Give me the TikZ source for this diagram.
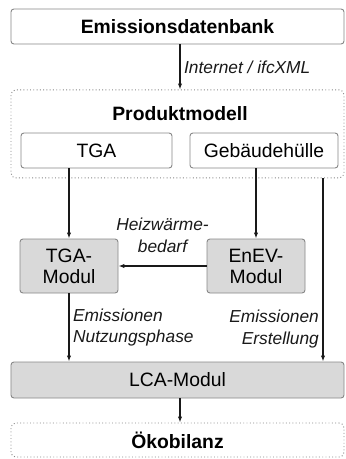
\documentclass[tikz,border=0pt]{standalone}
\usepackage{fontspec}
\setmainfont{Liberation Sans}
\usetikzlibrary{positioning, arrows.meta}
\definecolor{modulgray}{RGB}{217, 217, 217}
\definecolor{framegray}{RGB}{135, 135, 135}
\newcommand{\boxfont}{\fontsize{16.5pt}{18pt}\selectfont}
\newcommand{\lblfont}{\fontsize{14.8pt}{18.7pt}\selectfont\itshape}
\tikzset{
  % plain white box
  block/.style={
    rectangle, rounded corners=2.5pt,
    minimum height=1.05cm, inner sep=0pt,
    fill=white, draw=framegray, line width=0.8pt,
    font=\boxfont, align=center, text=black
  },
  % grey module box
  modul/.style={block, fill=modulgray, minimum width=2.94cm, minimum height=1.62cm},
  % dotted frame
  group/.style={
    rectangle, rounded corners=4pt, minimum width=9.99cm,
    draw=framegray, dotted, line width=0.8pt, font=\boxfont\bfseries
  },
  title/.style={font=\boxfont\bfseries},
  % italic connector labels
  lbl/.style={font=\lblfont, inner sep=3pt},
  % Arrow style
  arr/.style={-{Latex[length=5pt, width=3.6pt]}, line width=1pt, color=black!90},
}
\begin{document}
\begin{tikzpicture}
  \useasboundingbox (0,0) rectangle (10.35,-13.77);
  \node[block, minimum width=9.99cm, font=\boxfont\bfseries] (db) at (5.325,-0.795) {Emissionsdatenbank};
  \node[group, minimum height=2.64cm, below=1.35cm of db] (pm) {};
  \node[title] (pmt) at ([xshift=0.075cm, yshift=-0.72cm]pm.north) {Produktmodell};
  \node[block, minimum width=4.53cm] (tga) at (2.895,-4.515) {TGA};
  \node[block, minimum width=4.44cm] (huelle) at (7.92,-4.515) {Gebäudehülle};
  \node[modul] (tgamod) at (2.07,-7.98) {TGA-\\Modul};
  \node[modul] (enev) at (7.68,-7.98) {EnEV-\\Modul};
  \node[block, modul, minimum width=9.99cm, minimum height=1.08cm] (lca) at (5.325,-11.4) {LCA-Modul};
  \node[group, minimum height=1.02cm] (oeko) at (5.325,-13.2) {Ökobilanz};
  \coordinate (er) at (9.69,-5.31);
  \draw[arr] (db.south -| pmt) -- node[lbl, right] {Internet / ifcXML} (pm.north -| pmt);
  \draw[arr] (tga.south -| tgamod) -- (tgamod);
  \draw[arr] (huelle.south -| enev) -- (enev);
  \draw[arr] (enev) -- node[lbl, above=8pt, align=center] {Heizwärme-\\bedarf} (tgamod);
  \draw[arr] (tgamod) -- node[lbl, right, align=left] {Emissionen\\Nutzungsphase} (lca.north -| tgamod);
  \draw[arr] (pm.south -| er) -- node[lbl, left, pos=0.82, align=right] {Emissionen\\Erstellung} (lca.north -| er);
  \draw[arr] (lca.south -| pmt) -- (oeko.north -| pmt);
\end{tikzpicture}
\end{document}
